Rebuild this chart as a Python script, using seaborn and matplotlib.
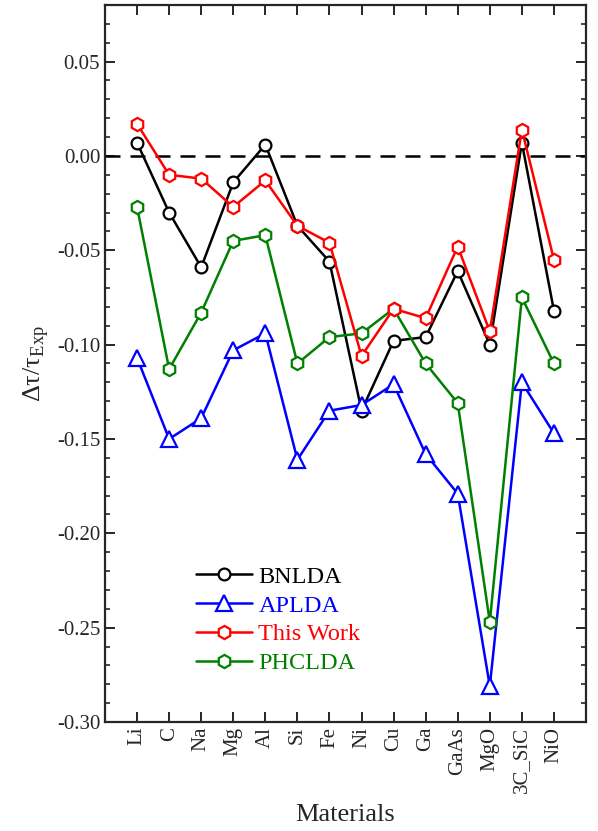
import numpy as np
import pandas as pd
import matplotlib
matplotlib.use("Agg")
import matplotlib.pyplot as plt
import seaborn as sns
from matplotlib.ticker import MultipleLocator

# data
materials = ["Li", "C", "Na", "Mg", "Al", "Si", "Fe", "Ni", "Cu", "Ga",
             "GaAs", "MgO", "3C_SiC", "NiO"]

bnlda = [0.007, -0.030, -0.059, -0.014, 0.006, -0.037, -0.056, -0.135,
         -0.098, -0.096, -0.061, -0.100, 0.007, -0.082]
aplda = [-0.107, -0.150, -0.139, -0.103, -0.094, -0.161, -0.135, -0.132,
         -0.121, -0.158, -0.179, -0.281, -0.120, -0.147]
this_work = [0.017, -0.010, -0.012, -0.027, -0.013, -0.037, -0.046, -0.106,
             -0.081, -0.086, -0.048, -0.093, 0.014, -0.055]
phclda = [-0.027, -0.113, -0.083, -0.045, -0.042, -0.110, -0.096, -0.094,
          -0.081, -0.110, -0.131, -0.247, -0.075, -0.110]

series = {"BNLDA": bnlda, "APLDA": aplda, "This Work": this_work, "PHCLDA": phclda}
colors = {"BNLDA": "#000000", "APLDA": "#0000FF", "This Work": "#FF0000", "PHCLDA": "#008000"}
markers = {"BNLDA": "o", "APLDA": "^", "This Work": "h", "PHCLDA": "h"}
msizes = {"BNLDA": 8.5, "APLDA": 11, "This Work": 9.5, "PHCLDA": 9.5}
zorders = {"BNLDA": 3, "APLDA": 4, "This Work": 6, "PHCLDA": 5}

sns.set_style("ticks")
plt.rcParams["font.family"] = ["Liberation Serif", "DejaVu Serif"]
plt.rcParams["mathtext.fontset"] = "custom"
plt.rcParams["mathtext.rm"] = "Liberation Serif"
plt.rcParams["axes.unicode_minus"] = False

fig = plt.figure(figsize=(5.98, 8.31), dpi=100)
ax = fig.add_axes([105 / 598, 1 - 722 / 831, 481 / 598, 717 / 831])

x = np.arange(len(materials))
for name, vals in series.items():
    c = colors[name]
    sns.lineplot(x=x, y=vals, ax=ax, color=c, marker=markers[name],
                 markersize=msizes[name], markerfacecolor="white",
                 markeredgecolor=c, markeredgewidth=1.6, linewidth=1.8,
                 label=name, zorder=zorders[name])

ax.axhline(0, color="black", lw=1.8, ls=(0, (6, 4)), zorder=2)

ax.set_xlim(-1, 14)
ax.set_ylim(-0.30, 0.08)
ax.set_xticks(np.arange(-1, 15))
ax.set_xticklabels([""] + materials + [""], rotation=90, fontsize=15)
ax.yaxis.set_major_locator(MultipleLocator(0.05))
ax.yaxis.set_minor_locator(MultipleLocator(0.01))
ax.yaxis.set_major_formatter(plt.FormatStrFormatter("%.2f"))
ax.tick_params(axis="y", labelsize=15)
ax.tick_params(which="major", direction="in", length=7, width=1.4,
               top=True, right=True)
ax.tick_params(which="minor", direction="in", length=3.5, width=1.2,
               top=False, right=True)
for sp in ax.spines.values():
    sp.set_linewidth(1.6)

ax.set_xlabel("Materials", fontsize=19, labelpad=8)
ax.set_ylabel(r"Δτ/τ$_{\mathrm{Exp}}$", fontsize=19, labelpad=4)

leg = ax.legend(loc="upper left", bbox_to_anchor=(0.19, 0.218), frameon=False,
                fontsize=17.5, handlelength=2.3, handletextpad=0.25,
                labelspacing=0.28, borderpad=0, borderaxespad=0,
                labelcolor="linecolor")

fig.savefig("out.png", dpi=100)
